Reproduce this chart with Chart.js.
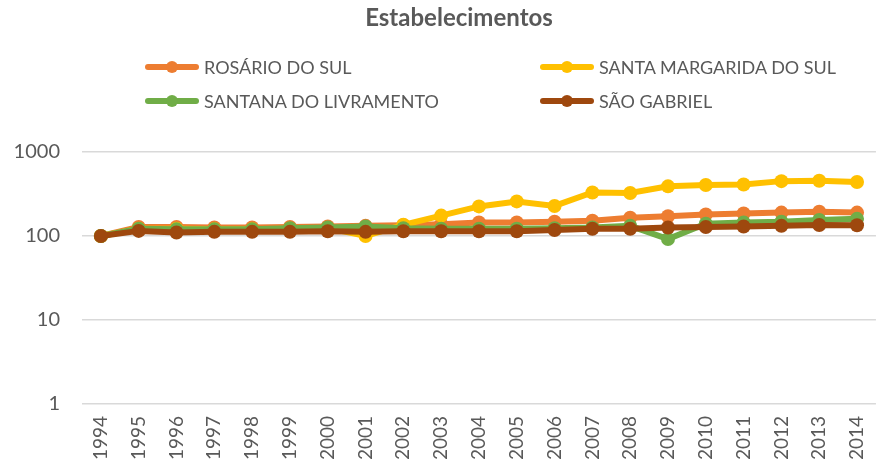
<!DOCTYPE html>
<html>
<head>
<meta charset="utf-8">
<script src="https://cdn.jsdelivr.net/npm/chart.js@4"></script>
<style>
    html, body { margin: 0; padding: 0; background: #fff; overflow: hidden; }
    #wrap { position: relative; width: 884px; height: 470px; }
    #title {
        position: absolute; left: 0; width: 918px; top: 2px;
        text-align: center; font: bold 24px Lato, sans-serif; color: #595959;
    }
    .legend-item {
        position: absolute; display: flex; align-items: center;
        font: 18px Lato, sans-serif; color: #595959; white-space: nowrap;
    }
    .legend-line { position: relative; width: 54px; height: 6px; border-radius: 3px; margin-right: 5px; }
    .legend-dot { position: absolute; left: 21px; top: -3px; width: 12px; height: 12px; border-radius: 50%; }
</style>
</head>
<body>
<div id="wrap">
    <div id="title">Estabelecimentos</div>
    <div id="legend"></div>
    <canvas id="chart" width="884" height="470"></canvas>
</div>
<script>
// Data
const years = ['1994', '1995', '1996', '1997', '1998', '1999', '2000', '2001', '2002', '2003', '2004',
    '2005', '2006', '2007', '2008', '2009', '2010', '2011', '2012', '2013', '2014'];
const rosario = [100, 128, 128, 126, 126, 128, 130, 132, 134, 138, 145, 145, 148, 152, 165, 172, 180, 185, 190, 195, 190];
const santaMargarida = [100, 122, 122, 120, 120, 122, 124, 100, 136, 175, 225, 258, 228, 330, 325, 390, 405, 410, 450, 455, 440];
const santana = [100, 122, 120, 120, 120, 124, 126, 130, 124, 122, 122, 122, 124, 126, 132, 92, 140, 145, 148, 155, 160];
const saoGabriel = [100, 115, 110, 112, 112, 112, 114, 112, 114, 114, 114, 114, 118, 122, 122, 126, 128, 130, 132, 135, 134];
const yTicks = [1, 10, 100, 1000];

const seriesNames = ['ROSÁRIO DO SUL', 'SANTA MARGARIDA DO SUL', 'SANTANA DO LIVRAMENTO', 'SÃO GABRIEL'];
const seriesColors = ['#ED7D31', '#FFC000', '#70AD47', '#9E480E'];
const seriesData = [rosario, santaMargarida, santana, saoGabriel];

// Legend (two columns, like the original)
const legendPos = [[145, 56], [540, 56], [145, 90], [540, 90]];
const legend = document.getElementById('legend');
seriesNames.forEach((name, i) => {
    const item = document.createElement('div');
    item.className = 'legend-item';
    item.style.left = legendPos[i][0] + 'px';
    item.style.top = legendPos[i][1] + 'px';
    item.innerHTML = `<span class="legend-line" style="background:${seriesColors[i]}">` +
        `<span class="legend-dot" style="background:${seriesColors[i]}"></span></span><span>${name}</span>`;
    legend.appendChild(item);
});

const datasets = seriesData.map((data, i) => ({
    label: seriesNames[i],
    data: data,
    borderColor: seriesColors[i],
    backgroundColor: seriesColors[i],
    borderWidth: 6,
    pointRadius: 7,
    pointHoverRadius: 7,
    pointBorderWidth: 0,
    order: seriesData.length - i
}));

new Chart(document.getElementById('chart'), {
    type: 'line',
    data: { labels: years, datasets: datasets },
    options: {
        responsive: false,
        animation: false,
        layout: { padding: { top: 152, right: 1, bottom: 0, left: 0 } },
        plugins: {
            legend: { display: false },
            title: { display: false },
            tooltip: { enabled: false }
        },
        scales: {
            x: {
                offset: true,
                grid: { display: false },
                border: { display: false },
                ticks: {
                    color: '#595959',
                    font: { family: 'Lato', size: 19 },
                    minRotation: 90,
                    maxRotation: 90,
                    padding: 4
                },
                afterFit: s => { s.height = 66; }
            },
            y: {
                type: 'logarithmic',
                min: 1,
                max: 1000,
                afterBuildTicks: s => { s.ticks = yTicks.map(v => ({ value: v })); },
                grid: { color: '#d9d9d9', lineWidth: 1.5, drawTicks: false },
                border: { display: false },
                ticks: {
                    color: '#595959',
                    font: { family: 'Lato', size: 20 },
                    padding: 22,
                    callback: v => String(v)
                },
                afterFit: s => { s.width = 82; }
            }
        }
    }
});
</script>
</body>
</html>
